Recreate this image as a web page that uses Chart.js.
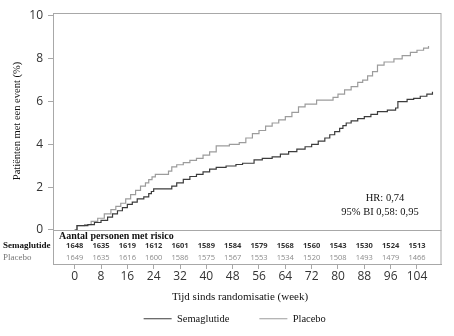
<!DOCTYPE html>
<html>
<head>
<meta charset="utf-8">
<script src="https://cdn.jsdelivr.net/npm/chart.js@4"></script>
<style>
  html, body { margin: 0; padding: 0; background: #fff; }
</style>
</head>
<body>
<canvas id="myChart" width="454" height="336"></canvas>
<script>
// cumulative % with event (week, %)
const semaWeeks = [0, 0.7, 4, 6, 8, 10, 11.5, 13, 14.5, 16, 17.5, 19, 21, 22.5, 23.3, 24, 29.5, 31, 33, 35, 37, 39, 41, 43, 46, 49, 51, 54.5, 57, 60, 62.5, 65, 67.5, 70, 72, 74, 76, 77.5, 79, 80.5, 81.5, 82.5, 84, 86, 88, 90, 92, 95, 97.5, 98.2, 101, 103, 105, 107, 108.7];
const semaPct = [0, 0.2, 0.25, 0.35, 0.45, 0.6, 0.75, 0.9, 1.05, 1.2, 1.3, 1.45, 1.55, 1.7, 1.8, 1.92, 2.05, 2.2, 2.37, 2.5, 2.6, 2.72, 2.84, 2.93, 2.99, 3.06, 3.12, 3.28, 3.35, 3.42, 3.55, 3.66, 3.78, 3.89, 4.0, 4.15, 4.3, 4.45, 4.6, 4.75, 4.88, 5.0, 5.1, 5.2, 5.3, 5.4, 5.53, 5.6, 5.7, 6.0, 6.1, 6.15, 6.25, 6.35, 6.46];

const placeboWeeks = [0, 0.7, 3, 5, 7, 9, 11, 12.5, 14, 15.5, 17, 18.5, 20, 21.5, 22.5, 23.5, 24.5, 28.5, 29.5, 31, 33, 35, 37, 39, 41, 43, 47, 50, 52, 54, 56, 58, 60, 62, 64, 66, 68, 70, 73.5, 78.5, 80, 82, 84, 86, 87.5, 89, 90.5, 92, 94, 97, 99.5, 102, 104, 106, 107.5];
const placeboPct = [0, 0.2, 0.25, 0.4, 0.55, 0.75, 0.95, 1.1, 1.25, 1.45, 1.65, 1.85, 2.05, 2.2, 2.35, 2.48, 2.6, 2.75, 2.95, 3.05, 3.15, 3.25, 3.35, 3.5, 3.65, 3.93, 4.0, 4.08, 4.3, 4.5, 4.65, 4.85, 5.0, 5.15, 5.3, 5.5, 5.75, 5.88, 6.07, 6.2, 6.35, 6.55, 6.7, 6.9, 7.0, 7.2, 7.4, 7.7, 7.85, 8.0, 8.15, 8.3, 8.4, 8.5, 8.6];

const weekTicks = [0, 8, 16, 24, 32, 40, 48, 56, 64, 72, 80, 88, 96, 104];
const pctTicks = [0, 2, 4, 6, 8, 10];

// aantal personen met risico
const semaAtRisk = [1648, 1635, 1619, 1612, 1601, 1589, 1584, 1579, 1568, 1560, 1543, 1530, 1524, 1513];
const placeboAtRisk = [1649, 1635, 1616, 1600, 1586, 1575, 1567, 1553, 1534, 1520, 1508, 1493, 1479, 1466];

const semaColor = "#3c3c3c";
const placeboColor = "#9c9c9c";
const frameColor = "#a8a8a8";
const serif = "'Liberation Serif', 'Times New Roman', serif";
const sans = "'Open Sans', 'DejaVu Sans', sans-serif";

function toPoints(xs, ys) {
  return xs.map((x, i) => ({ x: x, y: ys[i] }));
}

const extras = {
  id: "extras",
  afterDraw(chart) {
    const ctx = chart.ctx;
    const a = chart.chartArea;
    const xs = chart.scales.x;
    const ys = chart.scales.y;
    ctx.save();

    // frame + zero line
    ctx.strokeStyle = frameColor;
    ctx.lineWidth = 1;
    ctx.strokeRect(a.left + 0.5, a.top + 0.5, a.right - a.left - 1, a.bottom - a.top);
    const y0 = Math.round(ys.getPixelForValue(0)) + 0.5;
    ctx.beginPath();
    ctx.moveTo(a.left, y0);
    ctx.lineTo(a.right, y0);
    ctx.stroke();

    // y title
    ctx.fillStyle = "#111";
    ctx.font = "10.5px " + serif;
    ctx.textAlign = "center";
    ctx.textBaseline = "middle";
    ctx.save();
    ctx.translate(17, 121);
    ctx.rotate(-Math.PI / 2);
    ctx.fillText("Patiënten met een event (%)", 0, 0);
    ctx.restore();

    // x title
    ctx.font = "11px " + serif;
    ctx.fillText("Tijd sinds randomisatie (week)", 240, 297);

    // HR
    ctx.font = "10.5px " + serif;
    ctx.fillText("HR: 0,74", 385, 198);
    ctx.fillText("95% BI 0,58: 0,95", 380, 212);

    // number at risk
    ctx.textAlign = "left";
    ctx.font = "bold 10px " + serif;
    ctx.fillText("Aantal personen met risico", 59, 236);
    ctx.font = "bold 9px " + serif;
    ctx.fillText("Semaglutide", 3, 245.5);
    ctx.fillStyle = "#777";
    ctx.font = "9px " + serif;
    ctx.fillText("Placebo", 3, 258);

    ctx.textAlign = "center";
    weekTicks.forEach((w, i) => {
      const px = xs.getPixelForValue(w);
      ctx.fillStyle = "#333";
      ctx.font = "bold 7.5px " + sans;
      ctx.fillText(semaAtRisk[i], px, 245.5);
      ctx.fillStyle = "#8a8a8a";
      ctx.font = "7.5px " + sans;
      ctx.fillText(placeboAtRisk[i], px, 258);
    });
    ctx.restore();
  }
};

new Chart("myChart", {
  type: "line",
  data: {
    datasets: [
      {
        label: "Semaglutide",
        data: toPoints(semaWeeks, semaPct),
        borderColor: semaColor,
        backgroundColor: semaColor,
        borderWidth: 1.2,
        stepped: true,
        pointRadius: 0,
        fill: false,
      },
      {
        label: "Placebo",
        data: toPoints(placeboWeeks, placeboPct),
        borderColor: placeboColor,
        backgroundColor: placeboColor,
        borderWidth: 1.2,
        stepped: true,
        pointRadius: 0,
        fill: false,
      },
    ],
  },
  options: {
    responsive: false,
    animation: false,
    layout: { padding: { left: 28, right: 12.5, top: 13, bottom: 2 } },
    plugins: {
      tooltip: { enabled: false },
      legend: {
        position: "bottom",
        labels: {
          usePointStyle: true,
          pointStyle: "line",
          pointStyleWidth: 28,
          padding: 30,
          color: "#111",
          font: { family: serif, size: 10.5 },
        },
      },
    },
    scales: {
      x: {
        type: "linear",
        min: -6.59,
        max: 111.45,
        afterBuildTicks: (s) => { s.ticks = weekTicks.map((v) => ({ value: v })); },
        afterFit: (s) => {
          const lh = s.chart.legend ? s.chart.legend.height : 0;
          s.height = 336 - 264 - 2 - lh;
        },
        grid: { drawOnChartArea: false, tickLength: 5, color: frameColor },
        border: { color: frameColor },
        ticks: { autoSkip: false, maxRotation: 0, padding: 0, color: "#333", font: { family: sans, size: 12 } },
      },
      y: {
        min: -1.589,
        max: 10.14,
        afterBuildTicks: (s) => { s.ticks = pctTicks.map((v) => ({ value: v })); },
        afterFit: (s) => { s.width = 25; },
        grid: { drawOnChartArea: false, tickLength: 5, color: frameColor },
        border: { color: frameColor },
        ticks: { padding: 5, color: "#333", font: { family: sans, size: 12 } },
      },
    },
  },
  plugins: [extras],
});
</script>
</body>
</html>
